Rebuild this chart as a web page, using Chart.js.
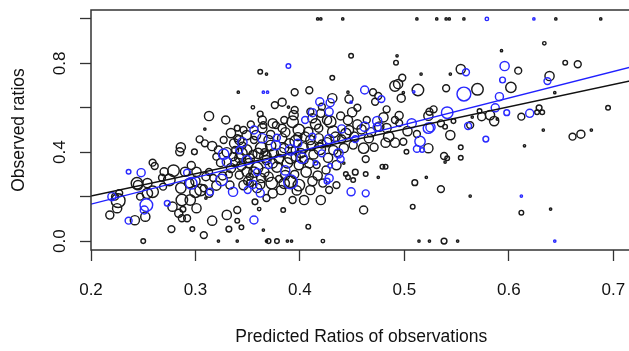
<!DOCTYPE html>
<html>
<head>
<meta charset="utf-8">
<script src="https://cdn.jsdelivr.net/npm/chart.js@4"></script>
<style>
  body { margin: 0; background: #fff; }
  #wrap { width: 629px; height: 351px; overflow: hidden; }
</style>
</head>
<body>
<div id="wrap"><canvas id="plot" width="640" height="351"></canvas></div>
<script>
// axis ticks
const xTicks = [0.2, 0.3, 0.4, 0.5, 0.6, 0.7];
const xLabels = ["0.2", "0.3", "0.4", "0.5", "0.6", "0.7"];
const yTicks = [0, 0.2, 0.4, 0.6, 0.8, 1.0];
const yLabels = ["0.0", "", "0.4", "", "0.8", ""];

// [predicted, observed, relative n]
const blackObs = [
  [0.417,1,1],[0.420,1,1],[0.441,1,1],[0.512,1,1],[0.531,1,1],[0.540,1,1],[0.543,1,1],[0.557,1,1],[0.645,1,1],[0.688,1,1],
  [0.250,0,2],[0.322,0,1],[0.340,0,1],[0.368,0,1],[0.370,0,2],[0.378,0,2],[0.388,0,1],[0.392,0,1],[0.422,0,1.5],[0.514,0,1],[0.524,0,1],[0.538,0,2.5],[0.551,0,1],
  [0.218,0.117,3.5],[0.226,0.182,6],[0.223,0.200,3],[0.225,0.148,4],[0.242,0.094,4],[0.252,0.110,4],[0.245,0.252,4],[0.254,0.261,4],
  [0.259,0.222,5],[0.269,0.245,3],[0.278,0.155,4],[0.288,0.143,2.5],[0.287,0.103,3],[0.277,0.054,3],[0.297,0.054,2],[0.308,0.027,3],
  [0.286,0.239,4.5],[0.294,0.261,4],[0.305,0.230,5],[0.259,0.353,3],[0.261,0.338,3],[0.270,0.312,3.5],[0.279,0.317,5],[0.275,0.275,5],
  [0.286,0.422,4],[0.285,0.402,3.5],[0.299,0.402,2.5],[0.290,0.312,4],[0.301,0.312,4],[0.304,0.458,3],[0.309,0.440,3],[0.316,0.428,4],
  [0.324,0.353,3.5],[0.340,0.463,3],[0.349,0.477,4],[0.346,0.252,4],[0.333,0.252,3.5],[0.349,0.312,4],[0.352,0.261,3],[0.244,0.260,5],
  [0.254,0.215,4.5],[0.247,0.200,3],[0.287,0.185,5],[0.295,0.185,4.5],[0.300,0.222,5],[0.308,0.238,3],[0.313,0.215,3.5],[0.301,0.148,4],
  [0.284,0.125,3.5],[0.292,0.103,3],[0.316,0.092,4],[0.330,0.118,4],[0.340,0.140,3],[0.340,0.092,2],[0.344,0.062,2],[0.332,0.054,2.5],
  [0.357,0.177,2.5],[0.361,0.144,1.5],[0.365,0.050,1],[0.310,0.194,1],[0.313,0.563,4],[0.329,0.545,3.5],[0.340,0.508,2.5],[0.309,0.504,1],
  [0.365,0.522,3],[0.362,0.762,2],[0.368,0.752,1],[0.341,0.670,1],[0.355,0.602,1.5],[0.362,0.572,2.5],[0.317,0.284,3],[0.326,0.293,3.5],
  [0.313,0.311,3],[0.227,0.216,3],
  [0.395,0.670,3],[0.409,0.679,3],[0.446,0.670,1],[0.470,0.670,3],[0.491,0.698,4.5],[0.494,0.707,4],[0.499,0.668,1],[0.513,0.680,5],
  [0.540,0.688,3],[0.449,0.834,2],[0.493,0.834,1],[0.492,0.803,2],[0.516,0.752,1],[0.431,0.735,2],[0.498,0.735,3],[0.383,0.625,3.5],
  [0.376,0.612,3],[0.389,0.603,1],[0.431,0.643,4],[0.447,0.639,3.5],[0.472,0.627,3],[0.475,0.653,3],[0.497,0.643,3.5],[0.483,0.593,3],
  [0.421,0.605,3],[0.450,0.580,4],[0.394,0.567,4],[0.410,0.582,3],[0.412,0.553,4],[0.429,0.537,5],[0.439,0.563,3.5],[0.446,0.545,4],
  [0.480,0.557,4],[0.491,0.545,3],[0.524,0.582,3],[0.528,0.593,3],[0.523,0.564,4],[0.464,0.545,3],[0.385,0.545,3],[0.377,0.522,3],
  [0.393,0.537,5],[0.415,0.527,4.5],[0.426,0.545,4],[0.483,0.509,4],[0.495,0.531,3],[0.535,0.530,3],[0.364,0.508,4],[0.374,0.530,4],
  [0.383,0.508,3.5],[0.399,0.500,5],[0.408,0.492,4],[0.418,0.508,3.5],[0.432,0.492,5],[0.447,0.500,4],[0.459,0.503,4],[0.476,0.515,4],
  [0.539,0.515,2],[0.383,0.463,4],[0.396,0.449,5],[0.405,0.470,4],[0.418,0.463,4],[0.440,0.459,3.5],[0.466,0.463,4],[0.482,0.443,4],
  [0.491,0.443,4],[0.499,0.447,3],[0.512,0.482,3],[0.523,0.418,4],[0.502,0.402,2],[0.471,0.422,3.5],[0.461,0.418,4.5],[0.463,0.369,3],
  [0.479,0.335,2],[0.482,0.335,2],[0.453,0.310,2.5],[0.463,0.302,2],[0.444,0.302,2],[0.446,0.287,2],[0.451,0.275,2],[0.442,0.351,1],
  [0.475,0.287,1],[0.510,0.263,2.5],[0.521,0.287,1],[0.535,0.234,3],[0.538,0.383,3],[0.539,0.356,1],[0.420,0.185,4],[0.393,0.185,3],
  [0.374,0.215,4],[0.384,0.140,2],[0.461,0.140,3.5],[0.508,0.155,2],[0.408,0.065,2],[0.391,0.267,5],
  [0.342,0.455,4],[0.349,0.410,4.5],[0.356,0.455,3],[0.363,0.419,5],[0.370,0.455,4],[0.375,0.396,4],[0.385,0.419,4],[0.391,0.374,5],
  [0.401,0.396,4],[0.411,0.428,4],[0.421,0.437,3.5],[0.432,0.410,4],[0.442,0.419,4],[0.451,0.432,3.5],[0.342,0.374,4],[0.351,0.351,4],
  [0.359,0.329,5],[0.368,0.365,4],[0.378,0.333,4.5],[0.386,0.297,4],[0.399,0.342,4],[0.406,0.311,4.5],[0.416,0.342,3],[0.425,0.320,3.5],
  [0.435,0.342,4],[0.363,0.284,4],[0.373,0.261,5],[0.382,0.230,4],[0.399,0.252,5],[0.410,0.230,4],[0.422,0.261,3.5],[0.435,0.252,3],
  [0.342,0.297,3.5],[0.334,0.329,4],[0.338,0.410,3],[0.359,0.239,4],[0.404,0.185,4],[0.368,0.194,3],[0.346,0.500,3],[0.358,0.477,4],
  [0.327,0.455,3],[0.334,0.486,4],
  [0.330,0.400,4],[0.336,0.380,3.5],[0.345,0.430,3],[0.355,0.390,3.5],[0.366,0.400,3],[0.372,0.430,4.5],[0.380,0.370,4],[0.390,0.440,4],
  [0.395,0.410,3],[0.404,0.365,3.5],[0.413,0.390,4],[0.427,0.375,4],[0.436,0.395,3],[0.352,0.290,3],[0.366,0.310,4],[0.395,0.300,3.5],
  [0.417,0.295,4],[0.428,0.230,3],[0.380,0.280,3],[0.320,0.380,3],[0.322,0.410,3.5],
  [0.337,0.440,4],[0.344,0.395,5],[0.352,0.372,4],[0.360,0.395,4.5],[0.367,0.380,5],[0.374,0.350,4],[0.382,0.400,4],[0.388,0.352,4.5],
  [0.396,0.380,4],[0.403,0.420,4.5],[0.409,0.350,4],[0.419,0.415,5],[0.426,0.445,4],[0.434,0.470,4],[0.444,0.485,4.5],[0.452,0.470,4],
  [0.344,0.340,4],[0.356,0.310,4.5],[0.370,0.290,4],[0.385,0.260,4.5],[0.397,0.228,4],[0.412,0.270,4],[0.350,0.270,3.5],[0.362,0.255,4],
  [0.332,0.300,3],[0.338,0.355,4],[0.372,0.480,3.5],[0.386,0.490,4],[0.398,0.470,3.5],[0.410,0.455,4],[0.353,0.525,3],[0.364,0.545,3.5],
  [0.395,0.590,3],[0.420,0.575,3.5],[0.455,0.525,4],[0.468,0.490,4],[0.485,0.470,4.5],[0.503,0.495,4],[0.495,0.565,3.5],[0.455,0.600,3],
  [0.300,0.270,4],[0.310,0.290,3.5],[0.320,0.250,4],[0.296,0.340,3.5],[0.268,0.285,3],
  [0.634,0.890,1.5],[0.593,0.857,1],[0.654,0.803,2],[0.666,0.796,3],[0.609,0.767,3],[0.554,0.774,4],[0.544,0.752,1],[0.639,0.743,4],
  [0.570,0.683,5],[0.602,0.692,4.5],[0.644,0.668,1],[0.572,0.585,2],[0.629,0.600,2.5],[0.627,0.580,2],[0.632,0.580,2],[0.612,0.560,3],
  [0.695,0.600,2],[0.582,0.567,4],[0.574,0.560,3.5],[0.586,0.540,4],[0.565,0.558,1],[0.589,0.549,1],[0.547,0.540,2],[0.563,0.522,3],
  [0.544,0.477,4],[0.554,0.422,2],[0.554,0.375,2],[0.541,0.373,2],[0.615,0.429,1],[0.633,0.500,1],[0.661,0.470,3],[0.669,0.481,3.5],
  [0.679,0.500,1],[0.563,0.203,1],[0.612,0.128,2],[0.640,0.144,1]
];

const blueObs = [
  [0.579,1,1.5],[0.624,1,1],[0.644,0,1],
  [0.236,0.312,2],[0.248,0.308,3.5],[0.220,0.200,3.5],[0.236,0.092,3],[0.253,0.162,5.5],[0.251,0.140,3.5],[0.273,0.170,2.5],
  [0.296,0.260,5],[0.292,0.308,3],[0.327,0.391,4.5],[0.330,0.357,4],[0.325,0.275,5],[0.314,0.222,3],[0.336,0.222,4],[0.350,0.230,3],
  [0.362,0.216,3.5],[0.356,0.095,3.5],[0.356,0.500,3.5],[0.365,0.670,1],[0.369,0.670,1],[0.389,0.788,2],
  [0.419,0.627,3.5],[0.429,0.623,3.5],[0.449,0.625,1],[0.462,0.680,3.5],[0.478,0.639,3],[0.509,0.672,1],[0.428,0.582,3.5],[0.405,0.545,3],
  [0.474,0.540,4],[0.474,0.513,3.5],[0.507,0.530,4],[0.525,0.512,4],[0.541,0.578,5],[0.412,0.578,3.5],[0.462,0.515,4],[0.523,0.508,4.5],
  [0.364,0.463,4],[0.428,0.459,4],[0.453,0.459,3],[0.515,0.449,4.5],[0.517,0.410,2],[0.512,0.415,3],[0.377,0.432,4],[0.391,0.410,4.5],
  [0.402,0.373,4.5],[0.415,0.353,2],[0.421,0.395,3],[0.437,0.395,4],[0.439,0.369,3],[0.429,0.339,2],[0.428,0.283,3.5],[0.426,0.270,2.5],
  [0.391,0.267,6],[0.449,0.222,3.5],[0.463,0.215,3],[0.342,0.410,3],[0.349,0.365,4],[0.359,0.311,3],[0.370,0.342,3],
  [0.345,0.445,4],[0.378,0.465,3],[0.398,0.440,3.5],[0.412,0.470,3],[0.386,0.318,4],[0.355,0.255,3.5],[0.440,0.505,3.5],
  [0.596,0.788,4],[0.559,0.760,3],[0.637,0.720,3],[0.594,0.725,2.5],[0.557,0.662,6],[0.591,0.650,3.5],[0.587,0.600,3.5],[0.598,0.578,2.5],
  [0.620,0.575,3.5],[0.561,0.518,3],[0.578,0.459,2.5],[0.612,0.203,1]
];

// fitted lines, read at the two ends of the plot
const fitX = [0.2, 0.72];
const blackFitY = [0.203, 0.725];
const blueFitY = [0.166, 0.787];

const toPoints = (rows) => rows.map((r) => ({ x: r[0], y: r[1] }));
const toRadius = (rows) => rows.map((r) => r[2] * 1.15);
const fitLine = (ys) => fitX.map((x, i) => ({ x: x, y: ys[i] }));

Chart.defaults.font.family = "'Liberation Sans', Arial, sans-serif";
Chart.defaults.color = "#111";

// R-style box round the plot region
const boxPlugin = {
    id: "box",
    afterDraw(chart) {
        const { ctx, chartArea: a } = chart;
        ctx.save();
        ctx.strokeStyle = "#333";
        ctx.lineWidth = 1.5;
        ctx.strokeRect(a.left, a.top, a.right - a.left, a.bottom - a.top);
        ctx.restore();
    },
};

const tickGrid = {
    drawOnChartArea: false,
    tickLength: 11,
    tickColor: "#333",
    tickWidth: 1.3,
};

// fixed axis sizes, no extra label padding
const fixSize = (prop, size) => (s) => {
    s[prop] = size;
    s.paddingTop = 0;
    s.paddingBottom = 0;
    s.paddingLeft = 0;
    s.paddingRight = 0;
};

new Chart(document.getElementById("plot"), {
    type: "scatter",
    data: {
        datasets: [
            {
                data: fitLine(blueFitY),
                showLine: true,
                borderColor: "#2020ff",
                borderWidth: 1.3,
                pointRadius: 0,
                order: 0,
            },
            {
                data: fitLine(blackFitY),
                showLine: true,
                borderColor: "#111",
                borderWidth: 1.3,
                pointRadius: 0,
                order: 1,
            },
            {
                data: toPoints(blueObs),
                pointRadius: toRadius(blueObs),
                borderColor: "#2a2aff",
                backgroundColor: "rgba(0,0,0,0)",
                borderWidth: 1.45,
                order: 2,
            },
            {
                data: toPoints(blackObs),
                pointRadius: toRadius(blackObs),
                borderColor: "#1a1a1a",
                backgroundColor: "rgba(0,0,0,0)",
                borderWidth: 1.45,
                order: 3,
            },
        ],
    },
    options: {
        responsive: false,
        animation: false,
        events: [],
        layout: { padding: { top: 10, right: 6, left: 0, bottom: 0 } },
        plugins: { legend: { display: false }, tooltip: { enabled: false } },
        scales: {
            x: {
                type: "linear",
                min: 0.2,
                max: 0.7176,
                afterBuildTicks: (s) => { s.ticks = xTicks.map((v) => ({ value: v })); },
                afterFit: fixSize("height", 101),
                border: { display: false },
                grid: tickGrid,
                ticks: {
                    autoSkip: false,
                    maxRotation: 0,
                    padding: 19,
                    font: { size: 17 },
                    callback: (v, i) => xLabels[i],
                },
                title: {
                    display: true,
                    text: "Predicted Ratios of observations",
                    font: { size: 17.5 },
                    padding: { top: 0, bottom: 3.5 },
                },
            },
            y: {
                type: "linear",
                min: -0.04,
                max: 1.04,
                afterBuildTicks: (s) => { s.ticks = yTicks.map((v) => ({ value: v })); },
                afterFit: fixSize("width", 91),
                border: { display: false },
                grid: tickGrid,
                ticks: {
                    autoSkip: false,
                    minRotation: 90,
                    maxRotation: 90,
                    crossAlign: "center",
                    padding: 7.5,
                    font: { size: 17 },
                    callback: (v, i) => yLabels[i],
                },
                title: {
                    display: true,
                    text: "Observed ratios",
                    font: { size: 17.5 },
                    padding: { top: 8.5, bottom: 0 },
                },
            },
        },
    },
    plugins: [boxPlugin],
});
</script>
</body>
</html>
